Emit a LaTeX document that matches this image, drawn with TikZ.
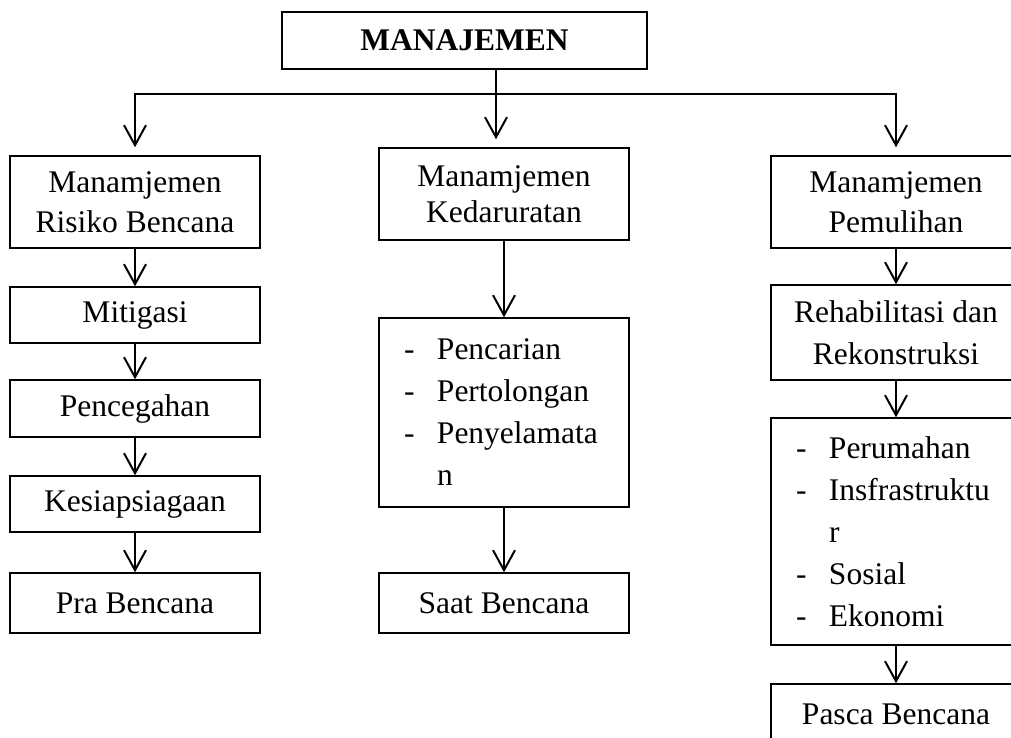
\documentclass[tikz,border=0pt]{standalone}
\usepackage{fontspec}
\setmainfont{Liberation Serif}
\usetikzlibrary{arrows.meta}
\tikzset{
  ar/.style={-{Straight Barb[length=10pt,width=11pt]},line width=1pt},
  box/.style={draw,line width=0.75pt,minimum width=125pt,align=center,inner sep=0pt,
    font=\fontsize{15.75}{20}\selectfont},
  lst/.style={box,text width=100pt,align=left,font=\fontsize{15.75}{21}\selectfont}
}
\newcommand{\dsh}{\makebox[16.5pt][l]{-}}

\begin{document}
\begin{tikzpicture}[x=0.5pt,y=-0.5pt]
\useasboundingbox (0,0) rectangle (1011,738);
\node[box,minimum width=182.5pt,minimum height=28.5pt] (manajemen) at (464.5,40.5) {\textbf{MANAJEMEN}};
% pra bencana
\node[box,minimum height=46pt] (risiko) at (135,202) {Manamjemen\\Risiko Bencana};
\node[box,minimum height=28pt] (mitigasi) at (135,315) {Mitigasi};
\node[box,minimum height=28.5pt] (pencegahan) at (135,408.5) {Pencegahan};
\node[box,minimum height=28pt] (siaga) at (135,504) {Kesiapsiagaan};
\node[box,minimum height=30pt] (pra) at (135,603) {Pra Bencana};
% saat bencana
\node[box,minimum height=46pt,font=\fontsize{15.75}{18}\selectfont] (darurat) at (504,194) {Manamjemen\\Kedaruratan};
\node[lst,minimum height=94.5pt] (tindakan) at (504,412.5)
  {\dsh Pencarian\\\dsh Pertolongan\\\dsh Penyelamata\\\hspace*{16.5pt}n};
\node[box,minimum height=30pt] (saat) at (504,603) {Saat Bencana};
% pasca bencana
\node[box,minimum height=46pt] (pulih) at (896,202) {Manamjemen\\Pemulihan};
\node[box,minimum height=47.5pt,font=\fontsize{15.75}{21}\selectfont] (rehab) at (896,332.5) {Rehabilitasi dan\\Rekonstruksi};
\node[lst,minimum height=113.5pt] (sektor) at (896,531.5)
  {\dsh Perumahan\\\dsh Insfrastruktu\\\hspace*{16.5pt}r\\\dsh Sosial\\\dsh Ekonomi};
\node[box,minimum height=30pt] (pasca) at (896,714) {Pasca Bencana};

\coordinate (bus) at (496,94);
\draw[ar,shorten >=4pt] (manajemen.south -| bus) -- (bus |- darurat.north);
\draw[ar,shorten >=4pt] (bus) -| (risiko.north);
\draw[ar,shorten >=4pt] (bus) -| (pulih.north);

\draw[ar] (risiko) -- (mitigasi);
\draw[ar] (mitigasi) -- (pencegahan);
\draw[ar] (pencegahan) -- (siaga);
\draw[ar] (siaga) -- (pra);
\draw[ar] (darurat) -- (tindakan);
\draw[ar] (tindakan) -- (saat);
\draw[ar] (pulih) -- (rehab);
\draw[ar] (rehab) -- (sektor);
\draw[ar] (sektor) -- (pasca);
\end{tikzpicture}
\end{document}
